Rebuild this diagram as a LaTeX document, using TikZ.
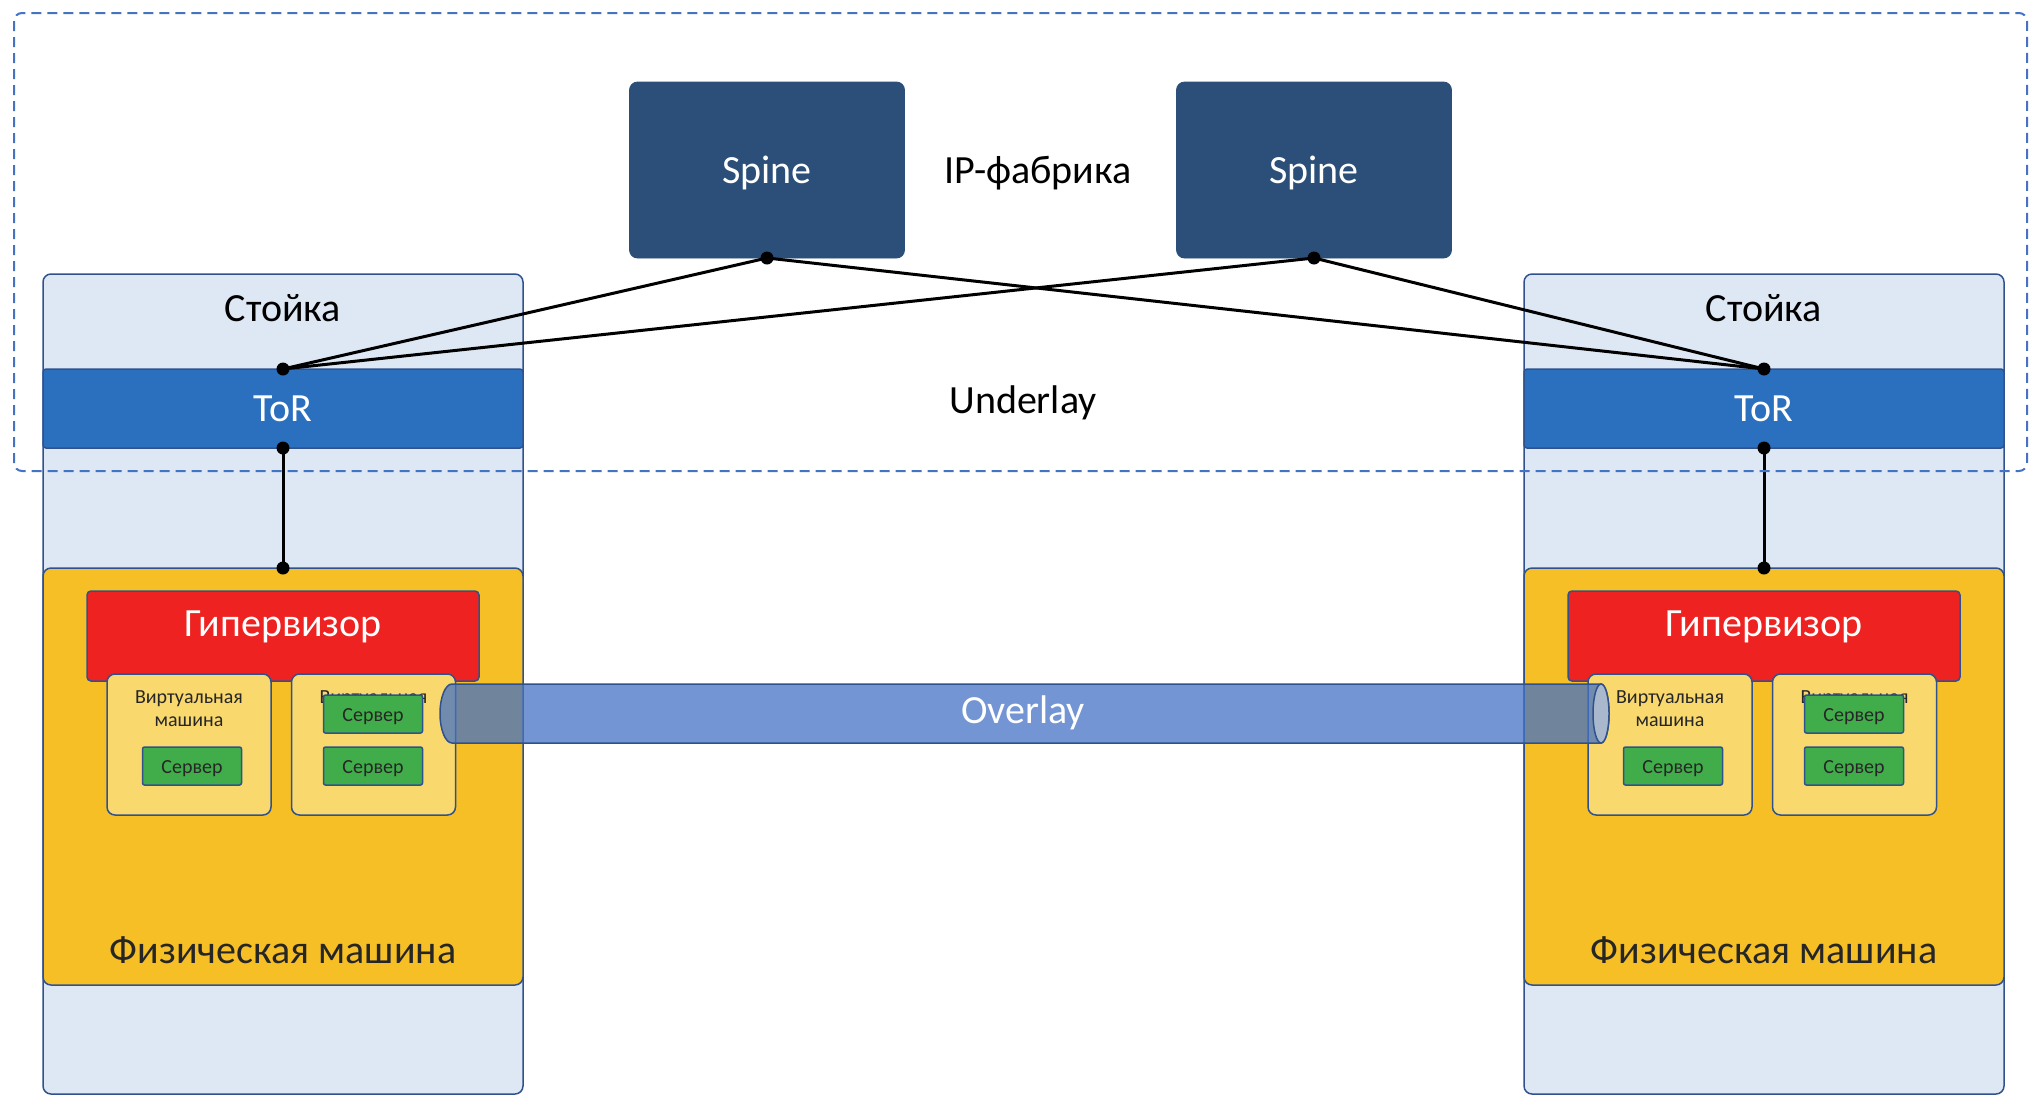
\documentclass[tikz,border=0pt]{standalone}
\usepackage{fontspec}
\setmainfont{Carlito}
\definecolor{bordc}{HTML}{2F528F}
\definecolor{rackc}{HTML}{DEE8F5}
\definecolor{torc}{HTML}{2A70BE}
\definecolor{physc}{HTML}{F6BF26}
\definecolor{hypc}{HTML}{EE2220}
\definecolor{vmc}{HTML}{F9D86E}
\definecolor{srvc}{HTML}{41AD4A}
\definecolor{spinec}{HTML}{2B4F78}
\definecolor{pipec}{HTML}{4472C4}
\definecolor{capc}{HTML}{AAB8CD}
\definecolor{dashc}{HTML}{4472C4}
\definecolor{txtc}{HTML}{262626}
\newcommand\myBig{\fontsize{20}{24}\selectfont}
\newcommand\mySmall{\fontsize{10}{12}\selectfont}

\begin{document}
\begin{tikzpicture}[x=0.5pt,y=-0.5pt,
  box/.style={draw=bordc, line width=0.75pt, inner sep=0pt, outer sep=0pt},
  rack/.style={box, fill=rackc, rounded corners=4pt, minimum width=240pt, minimum height=410pt},
  tor/.style={box, fill=torc, rounded corners=1.5pt, minimum width=240pt, minimum height=39.5pt},
  phys/.style={box, fill=physc, rounded corners=4pt, minimum width=240pt, minimum height=208.5pt},
  hyp/.style={box, fill=hypc, rounded corners=2pt, minimum width=196pt, minimum height=45pt},
  vm/.style={box, fill=vmc, rounded corners=4pt, minimum width=82pt, minimum height=70.5pt},
  srv/.style={box, fill=srvc, rounded corners=1pt, minimum width=49.5pt, minimum height=19pt, text=txtc, font=\mySmall, text height=9.3pt, text depth=2pt},
  spine/.style={fill=spinec, draw=spinec, rounded corners=4pt, inner sep=0pt, outer sep=0pt, minimum width=137.5pt, minimum height=88pt},
  bigtxt/.style={font=\myBig, inner sep=0pt, anchor=base},
  smalltxt/.style={font=\mySmall, text=txtc, inner sep=0pt, anchor=base},
  link/.style={line width=1.5pt, black},
  dot/.style={circle, fill=black, inner sep=0pt, minimum size=6.5pt},
  dashbox/.style={draw=dashc, line width=1pt, dash pattern=on 5pt off 3pt, rounded corners=4pt},
  pipe/.style={fill=pipec, fill opacity=0.75, draw=bordc, draw opacity=1, line width=0.75pt}
]
\useasboundingbox (0,0) rectangle (2035,1109);

% racks
\node[rack] (rackL) at (283,684) {};
\node[rack] (rackR) at (1764,684) {};
\node[bigtxt] (stL) at (283,321.7) {Стойка};
\node[bigtxt] (stR) at (1764,321.7) {Стойка};
\node[tor] (torL) at (283,408.5) {};
\node[tor] (torR) at (1764,408.5) {};
\node[bigtxt, text=white] (torLt) at (283,421.7) {ToR};
\node[bigtxt, text=white] (torRt) at (1764,421.7) {ToR};
\node[phys] (physL) at (283,776.5) {};
\node[phys] (physR) at (1764,776.5) {};
\node[bigtxt, text=txtc] (fmL) at (283,963.3) {Физическая машина};
\node[bigtxt, text=txtc] (fmR) at (1764,963.3) {Физическая машина};

% hypervisors
\node[hyp] (hypL) at (283,636) {};
\node[hyp] (hypR) at (1764,636) {};
\node[bigtxt, text=white] (hypLt) at (283,636.7) {Гипервизор};
\node[bigtxt, text=white] (hypRt) at (1764,636.7) {Гипервизор};

% virtual machines
\node[vm] (vm1) at (189,744.5) {};
\node[vm] (vm2) at (373.5,744.5) {};
\node[vm] (vm3) at (1670,744.5) {};
\node[vm] (vm4) at (1854.5,744.5) {};
\node[smalltxt] (vm1a) at (189,703.3) {Виртуальная};
\node[smalltxt] (vm1b) at (189,726.7) {машина};
\node[smalltxt] (vm2a) at (373.5,703.3) {Виртуальная};
\node[smalltxt] (vm2b) at (373.5,726.7) {машина};
\node[smalltxt] (vm3a) at (1670,703.3) {Виртуальная};
\node[smalltxt] (vm3b) at (1670,726.7) {машина};
\node[smalltxt] (vm4a) at (1854.5,703.3) {Виртуальная};
\node[smalltxt] (vm4b) at (1854.5,726.7) {машина};

% servers
\node[srv] (s1) at (192,766) {Сервер};
\node[srv] (s2a) at (373,714) {Сервер};
\node[srv] (s2b) at (373,766) {Сервер};
\node[srv] (s3) at (1673,766) {Сервер};
\node[srv] (s4a) at (1854,714) {Сервер};
\node[srv] (s4b) at (1854,766) {Сервер};

% overlay pipe
\path[pipe] (452,684) -- (1601,684) arc[start angle=90, end angle=-90, x radius=4pt, y radius=14.75pt]
  -- (452,743) arc[start angle=270, end angle=90, x radius=6pt, y radius=14.75pt] -- cycle;
\draw[fill=capc, draw=bordc, line width=0.75pt] (1601,713.5) ellipse[x radius=4pt, y radius=14.75pt];
\node[bigtxt, text=white] (ovl) at (1023,723.3) {Overlay};

% spines
\node[spine] (sp1) at (767,170) {};
\node[spine] (sp2) at (1314,170) {};
\node[bigtxt, text=white] (sp1t) at (767,183.3) {Spine};
\node[bigtxt, text=white] (sp2t) at (1314,183.3) {Spine};
\node[bigtxt] (ipf) at (1038,183.3) {IP-фабрика};
\node[bigtxt] (und) at (1023,413.3) {Underlay};

% links
\draw[link] (sp1.south) -- (torL.north);
\draw[link] (sp1.south) -- (torR.north);
\draw[link] (sp2.south) -- (torL.north);
\draw[link] (sp2.south) -- (torR.north);
\draw[link] (torL.south) -- (physL.north);
\draw[link] (torR.south) -- (physR.north);
\foreach \p in {sp1.south, sp2.south, torL.north, torR.north, torL.south, torR.south, physL.north, physR.north}
  \node[dot] at (\p) {};

% underlay dashed area
\draw[dashbox] (14,13) rectangle (2027,471);
\end{tikzpicture}
\end{document}
